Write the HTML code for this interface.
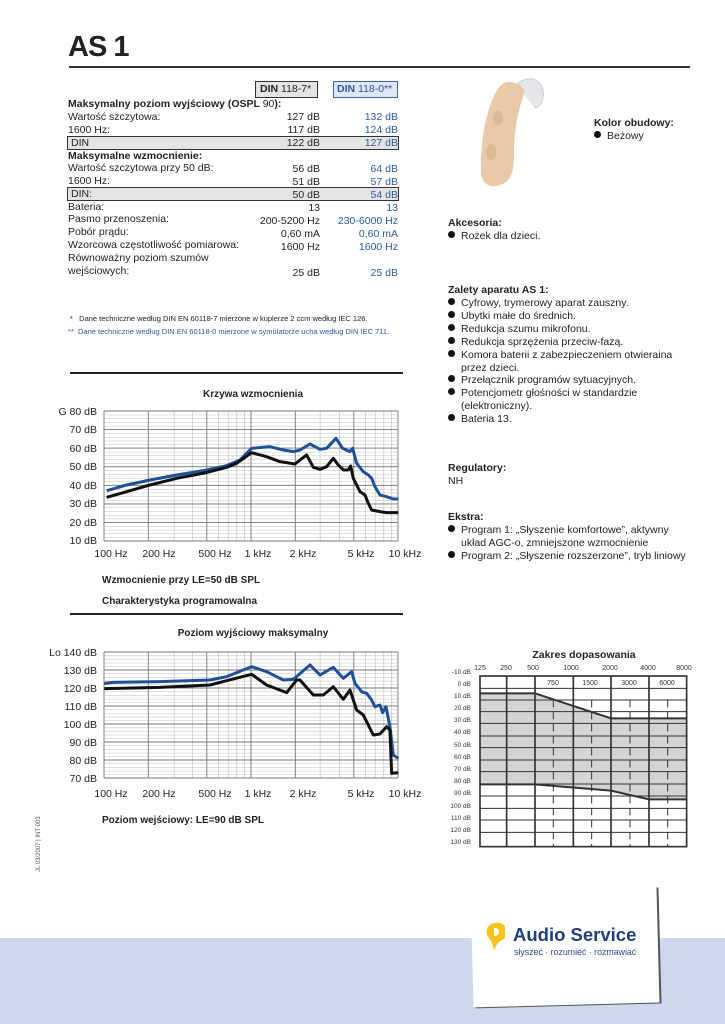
<!DOCTYPE html>
<html><head><meta charset="utf-8"><style>
body{margin:0;width:725px;height:1024px;position:relative;background:#fff;font-family:"Liberation Sans",sans-serif;color:#222;overflow:hidden}
.a{position:absolute;white-space:nowrap;font-size:10.5px;line-height:13px}
.b{font-weight:bold}
.bl{color:#2a5aa0}
.r{text-align:right}
.dot{display:inline-block;width:7px;height:7px;border-radius:50%;background:#111;margin-right:6px;vertical-align:1px}
</style></head><body>
<div style="position:absolute;left:0;top:938px;width:725px;height:86px;background:#cdd8ee"></div>
<div style="position:absolute;left:472px;top:889px;width:186px;height:116px;background:#fff;transform:rotate(-1.5deg);box-shadow:2px 1px 0 #555"></div>
<svg style="position:absolute;left:485px;top:922px" width="20" height="30" viewBox="0 0 20 30"><path d="M10 1a9 9 0 0 0-6 15c2 3 4 6 5 12 2-4 3-6 6-9a9 9 0 0 0-5-18z" fill="#f6c31a"/><path d="M9 6a4 4 0 0 1 5 4c0 3-3 4-5 4z" fill="#fff"/></svg>
<div class="a b" style="left:513px;top:924px;font-size:18.5px;line-height:21px;color:#1f3e7c">Audio Service</div>
<div class="a" style="left:514px;top:946px;font-size:8.8px;color:#2a4a8a">słyszeć · rozumieć · rozmawiać</div>

<div class="a b" style="left:68px;top:31px;font-size:29px;line-height:32px;letter-spacing:-1px">AS 1</div>
<div style="position:absolute;left:69px;top:66px;width:621px;height:1.5px;background:#333"></div>

<div style="position:absolute;left:255px;top:81px;width:61px;height:15px;border:1.5px solid #333;background:#e4e4e4"></div>
<div style="position:absolute;left:333px;top:81px;width:63px;height:15px;border:1.5px solid #3b66a8;background:#dfe7f5"></div>
<div class="a" style="left:260px;top:83px"><b>DIN</b> 118-7*</div>
<div class="a bl" style="left:337px;top:83px"><b>DIN</b> 118-0**</div>
<div style="position:absolute;left:67px;top:136px;width:330px;height:12px;border:1.5px solid #333;background:#e4e4e4"></div>
<div style="position:absolute;left:67px;top:187px;width:330px;height:12px;border:1.5px solid #333;background:#e4e4e4"></div>
<div class="a b" style="left:68px;top:98px">Maksymalny poziom wyjściowy (OSPL <span style="font-weight:normal">90</span>):</div>
<div class="a" style="left:68px;top:111px">Wartość szczytowa:</div>
<div class="a" style="left:68px;top:124px">1600 Hz:</div>
<div class="a" style="left:71px;top:137px">DIN</div>
<div class="a b" style="left:68px;top:150px">Maksymalne wzmocnienie:</div>
<div class="a" style="left:68px;top:162px">Wartość szczytowa przy 50 dB:</div>
<div class="a" style="left:68px;top:175px">1600 Hz:</div>
<div class="a" style="left:71px;top:188px">DIN:</div>
<div class="a" style="left:68px;top:201px">Bateria:</div>
<div class="a" style="left:68px;top:213px">Pasmo przenoszenia:</div>
<div class="a" style="left:68px;top:226px">Pobór prądu:</div>
<div class="a" style="left:68px;top:239px">Wzorcowa częstotliwość pomiarowa:</div>
<div class="a" style="left:68px;top:252px">Równoważny poziom szumów</div>
<div class="a" style="left:68px;top:265px">wejściowych:</div>
<div class="a r" style="left:220px;width:100px;top:111px">127 dB<br>117 dB<br>122 dB<br><br>56 dB<br>51 dB<br>50 dB<br>13<br>200-5200 Hz<br>0,60 mA<br>1600 Hz<br><br>25 dB</div>
<div class="a r bl" style="left:298px;width:100px;top:111px">132 dB<br>124 dB<br>127 dB<br><br>64 dB<br>57 dB<br>54 dB<br>13<br>230-6000 Hz<br>0,60 mA<br>1600 Hz<br><br>25 dB</div>
<div class="a" style="left:70px;top:312px;font-size:7.5px">*&nbsp;&nbsp;&nbsp;Dane techniczne według DIN EN 60118-7 mierzone w kuplerze 2 ccm według IEC 126.</div>
<div class="a bl" style="left:68px;top:325px;font-size:7.5px">**&nbsp;&nbsp;Dane techniczne według DIN EN 60118-0 mierzone w symulatorze ucha według DIN IEC 711.</div>
<div style="position:absolute;left:70px;top:372px;width:333px;height:1.5px;background:#222"></div>
<div style="position:absolute;left:70px;top:613px;width:333px;height:1.5px;background:#222"></div>

<svg style="position:absolute;left:0;top:0" width="725" height="1024">
<defs>
<pattern id="h1" width="10" height="3.714" patternUnits="userSpaceOnUse" y="411"><line x1="0" x2="10" y1="0.2" y2="0.2" stroke="#bbb" stroke-width="0.5"/></pattern>
<pattern id="h2" width="10" height="3.6" patternUnits="userSpaceOnUse" y="652"><line x1="0" x2="10" y1="0.2" y2="0.2" stroke="#bbb" stroke-width="0.5"/></pattern>
</defs>
<g id="c1">
<rect x="104" y="411" width="294" height="130" fill="url(#h1)"/>
<g stroke="#bbb" stroke-width="0.6"><path d="M174.1 411V541M192.5 411V541M218.4 411V541M228.2 411V541M236.8 411V541M244.3 411V541M320.1 411V541M339.5 411V541M365.4 411V541M375.2 411V541M383.8 411V541M391.3 411V541"/></g>
<g stroke="#777" stroke-width="0.9"><path d="M104 411H398M104 429.6H398M104 448.1H398M104 466.7H398M104 485.3H398M104 503.9H398M104 522.4H398M104 541H398M104 411V541M148.3 411V541M206.8 411V541M251 411V541M295.3 411V541M353.8 411V541M398 411V541"/></g>
<g transform="translate(60,380) scale(0.3333)" fill="none" stroke-width="9" stroke-linejoin="round">
<polyline stroke="#1f4f96" points="140,332 200,315 270,300 350,285 430,272 500,257 540,240 575,205 630,200 670,210 700,215 720,210 750,192 780,208 800,205 828,175 848,205 870,215 878,205 890,250 910,275 925,285 935,295 945,320 960,345 980,350 1000,357 1015,357"/>
<polyline stroke="#111" points="140,352 200,335 270,315 350,295 430,280 500,262 530,250 575,218 620,230 660,245 705,252 740,225 760,262 780,268 800,260 820,235 835,255 850,270 865,270 872,258 880,295 900,335 915,345 925,370 935,390 960,395 980,398 1000,398 1015,398"/>
</g></g>
<g id="c2">
<rect x="104" y="652" width="294" height="126" fill="url(#h2)"/>
<g stroke="#bbb" stroke-width="0.6"><path d="M174.1 652V778M192.5 652V778M218.4 652V778M228.2 652V778M236.8 652V778M244.3 652V778M320.1 652V778M339.5 652V778M365.4 652V778M375.2 652V778M383.8 652V778M391.3 652V778"/></g>
<g stroke="#777" stroke-width="0.9"><path d="M104 652H398M104 670H398M104 688H398M104 706H398M104 724H398M104 742H398M104 760H398M104 778H398M104 652V778M148.3 652V778M206.8 652V778M251 652V778M295.3 652V778M353.8 652V778M398 652V778"/></g>
<g transform="translate(60,640) scale(0.3333)" fill="none" stroke-width="9" stroke-linejoin="round">
<polyline stroke="#1f4f96" points="133,130 160,127 300,125 450,120 500,110 575,80 620,95 670,120 700,118 750,75 780,105 820,82 850,115 875,95 885,130 905,155 920,160 935,180 945,200 960,195 968,218 978,200 990,260 1000,345 1015,355"/>
<polyline stroke="#111" points="133,146 300,142 450,135 500,122 575,103 620,135 680,158 710,120 720,120 760,165 790,165 820,140 850,178 870,150 890,210 910,225 920,245 940,285 960,282 980,260 990,270 995,400 1015,398"/>
</g></g>
<g transform="translate(445,640) scale(0.3333)">
<polygon points="105,160 270,160 498,235 725,235 725,478 612,478 498,452 270,433 105,433" fill="#d4d4d4"/>
<g stroke="#333" stroke-width="3" fill="none">
<path d="M105 145H725M105 180H725M105 215H725M105 250H725M105 288H725M105 323H725M105 360H725M105 395H725M105 432H725M105 468H725M105 505H725M105 540H725M105 577H725"/>
<path d="M325 180V620M440 180V620M555 180V620M668 180V620" stroke-dasharray="22 14"/>
<path d="M185 108V620M270 108V620M385 108V620M498 108V620M612 108V620" stroke-width="5"/>
<rect x="105" y="108" width="620" height="512" stroke-width="5"/>
<polyline points="105,160 270,160 498,235 725,235" stroke-width="6"/>
<polyline points="105,433 270,433 498,452 612,478 725,478" stroke-width="6"/>
</g></g>
<g font-family="Liberation Sans, sans-serif" font-size="6.5" fill="#333" text-anchor="end">
<text x="471" y="674">-10 dB</text><text x="471" y="686">0 dB</text><text x="471" y="698">10 dB</text><text x="471" y="710">20 dB</text><text x="471" y="722">30 dB</text><text x="471" y="734">40 dB</text><text x="471" y="747">50 dB</text><text x="471" y="759">60 dB</text><text x="471" y="771">70 dB</text><text x="471" y="783">80 dB</text><text x="471" y="795">90 dB</text><text x="471" y="808">100 dB</text><text x="471" y="820">110 dB</text><text x="471" y="832">120 dB</text><text x="471" y="844">130 dB</text>
</g>
<g font-family="Liberation Sans, sans-serif" font-size="7" fill="#333" text-anchor="middle">
<text x="480" y="670">125</text><text x="506" y="670">250</text><text x="533" y="670">500</text><text x="571" y="670">1000</text><text x="610" y="670">2000</text><text x="648" y="670">4000</text><text x="684" y="670">8000</text>
<text x="553" y="685">750</text><text x="590" y="685">1500</text><text x="629" y="685">3000</text><text x="667" y="685">6000</text>
</g>
<g font-family="Liberation Sans, sans-serif" font-size="10.5" fill="#222" text-anchor="end">
<text x="97" y="415">G 80 dB</text><text x="97" y="433">70 dB</text><text x="97" y="452">60 dB</text><text x="97" y="470">50 dB</text><text x="97" y="489">40 dB</text><text x="97" y="507">30 dB</text><text x="97" y="526">20 dB</text><text x="97" y="544">10 dB</text>
<text x="97" y="656">Lo 140 dB</text><text x="97" y="674">130 dB</text><text x="97" y="692">120 dB</text><text x="97" y="710">110 dB</text><text x="97" y="728">100 dB</text><text x="97" y="746">90 dB</text><text x="97" y="764">80 dB</text><text x="97" y="782">70 dB</text>
</g>
<g font-family="Liberation Sans, sans-serif" font-size="10.5" fill="#222" text-anchor="middle">
<text x="111" y="557">100 Hz</text><text x="159" y="557">200 Hz</text><text x="215" y="557">500 Hz</text><text x="258" y="557">1 kHz</text><text x="303" y="557">2 kHz</text><text x="361" y="557">5 kHz</text><text x="405" y="557">10 kHz</text>
<text x="111" y="797">100 Hz</text><text x="159" y="797">200 Hz</text><text x="215" y="797">500 Hz</text><text x="258" y="797">1 kHz</text><text x="303" y="797">2 kHz</text><text x="361" y="797">5 kHz</text><text x="405" y="797">10 kHz</text>
</g>
<g font-family="Liberation Sans, sans-serif" font-weight="bold" font-size="10" fill="#222">
<text x="253" y="397" text-anchor="middle">Krzywa wzmocnienia</text>
<text x="253" y="636" text-anchor="middle">Poziom wyjściowy maksymalny</text>
<text x="584" y="658" text-anchor="middle" font-size="10.5">Zakres dopasowania</text>
<text x="102" y="583">Wzmocnienie przy LE=50 dB SPL</text>
<text x="102" y="604">Charakterystyka programowalna</text>
<text x="102" y="823">Poziom wejściowy:  LE=90 dB SPL</text>
</g>
<text transform="translate(40,872) rotate(-90)" font-family="Liberation Sans, sans-serif" font-size="6" fill="#555">JL 03/2007 | INT 003</text>
<path d="M517 85c4-6 14-8 20-4 6 4 8 12 5 20-2 6-6 8-8 6" fill="#e4e6ea" stroke="#c8ccd2" stroke-width="1"/>
<path d="M508 82c8 0 18 4 16 12-4 12-10 30-10 60 0 20-4 30-18 32-10 1-14-5-15-12-1-30 4-60 14-80 4-8 8-12 13-12z" fill="#e8c9a8"/>
<ellipse cx="498" cy="118" rx="5" ry="7" fill="#dbb896"/>
<ellipse cx="491" cy="152" rx="5" ry="8" fill="#dbb896"/>
</svg>

<div class="a b" style="left:594px;top:117px">Kolor obudowy:</div>
<div class="a" style="left:594px;top:130px"><span class="dot"></span>Beżowy</div>
<div class="a b" style="left:448px;top:217px">Akcesoria:</div>
<div class="a" style="left:448px;top:230px"><span class="dot"></span>Rożek dla dzieci.</div>
<div class="a b" style="left:448px;top:284px">Zalety aparatu AS 1:</div>
<div class="a" style="left:448px;top:297px;line-height:12.9px">
<span class="dot"></span>Cyfrowy,  trymerowy aparat zauszny.<br>
<span class="dot"></span>Ubytki małe do średnich.<br>
<span class="dot"></span>Redukcja szumu mikrofonu.<br>
<span class="dot"></span>Redukcja sprzężenia przeciw-fazą.<br>
<span class="dot"></span>Komora baterii z zabezpieczeniem otwieraina<br>
<span style="padding-left:13px">przez dzieci.</span><br>
<span class="dot"></span>Przełącznik programów sytuacyjnych.<br>
<span class="dot"></span>Potencjometr głośności w standardzie<br>
<span style="padding-left:13px">(elektroniczny).</span><br>
<span class="dot"></span>Bateria 13.</div>
<div class="a b" style="left:448px;top:462px">Regulatory:</div>
<div class="a" style="left:448px;top:475px">NH</div>
<div class="a b" style="left:448px;top:511px">Ekstra:</div>
<div class="a" style="left:448px;top:524px;line-height:12.9px">
<span class="dot"></span>Program 1: „Słyszenie komfortowe”, aktywny<br>
<span style="padding-left:13px">układ AGC-o, zmniejszone wzmocnienie</span><br>
<span class="dot"></span>Program 2: „Słyszenie rozszerzone”, tryb liniowy</div>
</body></html>
